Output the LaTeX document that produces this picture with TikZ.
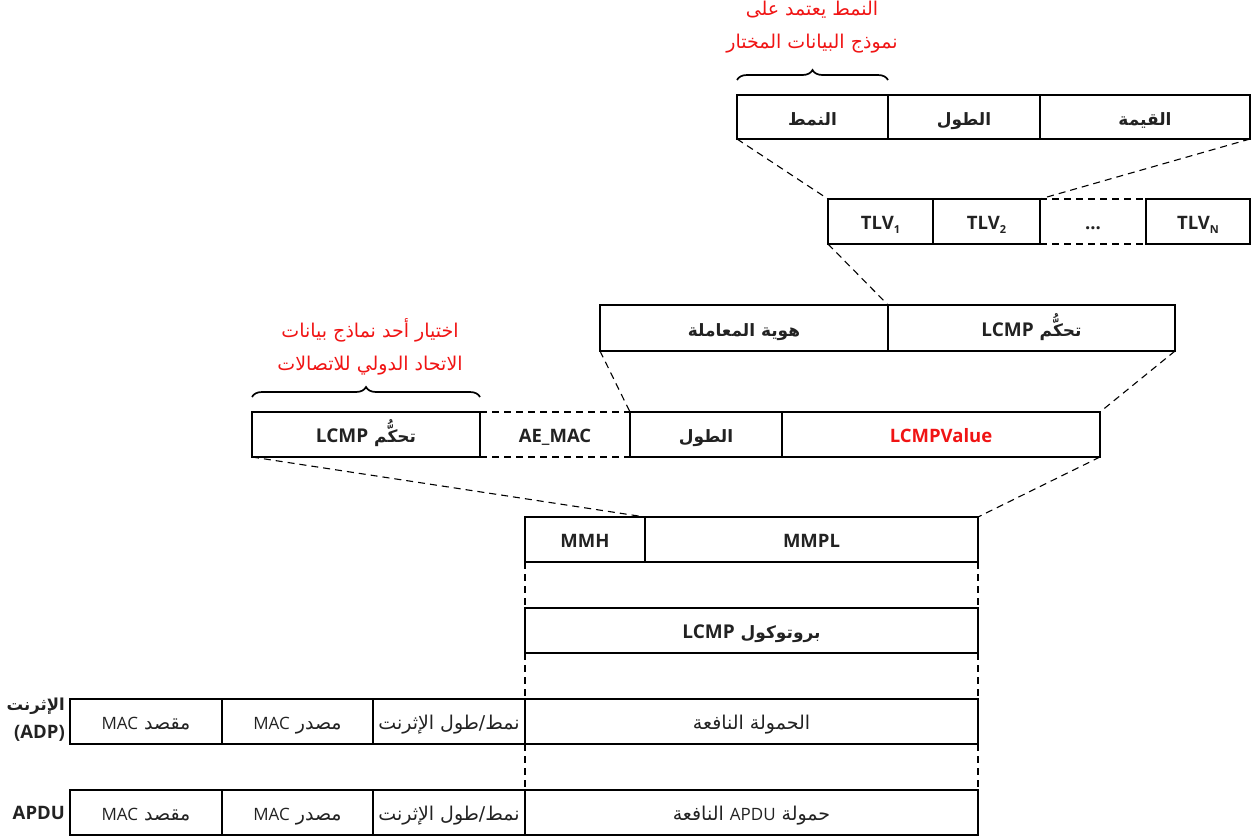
\documentclass[tikz,border=0pt]{standalone}
\usepackage{fontspec}
\setmainfont{Open Sans}
\newfontfamily\arfont[Script=Arabic]{DejaVu Sans}
\TeXXeTstate=1
\usetikzlibrary{decorations.pathreplacing}
% Arabic run (right to left) and Latin runs inside it
\newcommand\AR[1]{{\arfont\beginR #1\endR}}
\newcommand\LT[1]{{\rmfamily\fontsize{19}{22}\selectfont #1}}
\newcommand\LTs[1]{{\rmfamily\fontsize{17}{20}\selectfont #1}}
\newcommand\sub[1]{\raisebox{-4pt}{\fontsize{11}{11}\selectfont #1}}
\definecolor{notered}{RGB}{240,20,20}
\definecolor{ink}{RGB}{34,34,34}

\begin{document}
\begin{tikzpicture}[x=1pt,y=-1pt,
  cell/.style={draw, line width=1.2pt, anchor=north west, minimum height=45pt,
    inner sep=0pt, outer sep=0pt, text=ink},
  open/.style={cell, draw=none},
  hd/.style={font=\fontsize{18.5}{22}\selectfont\bfseries, text height=20pt, text depth=4pt},
  hdar/.style={font=\fontsize{17}{20}\selectfont\bfseries, text height=20pt, text depth=4pt},
  rg/.style={font=\fontsize{19}{22}\selectfont, text height=19pt, text depth=4pt},
  link/.style={dash pattern=on 7pt off 5pt, line width=1.1pt},
  note/.style={text=notered, font=\fontsize{19}{33}\selectfont, align=center},
  curly/.style={decorate, decoration={brace, amplitude=10pt}, line width=1.7pt},
  side/.style={font=\fontsize{18.5}{28}\selectfont\bfseries, align=right, anchor=east, inner sep=0pt, text=ink}
]
\useasboundingbox (0,0) rectangle (1253,838);

% Type / Length / Value
\node[cell, hdar, minimum width=151pt, minimum height=44pt] (tT) at (737,95) {\AR{النمط}};
\node[cell, hdar, minimum width=152pt, minimum height=44pt] (tL) at (888,95) {\AR{الطول}};
\node[cell, hdar, minimum width=210pt, minimum height=44pt] (tV) at (1040,95) {\AR{القيمة}};

% TLV list
\node[cell, hd, minimum width=105pt] (v1) at (828,199) {TLV\sub{1}};
\node[cell, hd, minimum width=107pt] (v2) at (933,199) {TLV\sub{2}};
\node[open, hd, minimum width=106pt] (vd) at (1040,199) {...};
\node[cell, hd, minimum width=104pt] (vN) at (1146,199) {TLV\sub{N}};
\draw[link] (vd.north west) -- (vd.north east);
\draw[link] (vd.south west) -- (vd.south east);

% LCMP control / transaction id
\node[cell, hdar, minimum width=288pt, minimum height=46pt] (cId) at (600,305) {\AR{هوية المعاملة}};
\node[cell, hdar, minimum width=287pt, minimum height=46pt] (cCtl) at (888,305) {\AR{تحكُّم \LT{LCMP}}};

% LCMP frame
\node[cell, hdar, minimum width=228pt] (lCtl) at (252,412) {\AR{تحكُّم \LT{LCMP}}};
\node[open, hd, minimum width=150pt] (lAE) at (480,412) {AE\_MAC};
\node[cell, hdar, minimum width=152pt] (lLen) at (630,412) {\AR{الطول}};
\node[cell, hd, minimum width=318pt, text=notered] (lVal) at (782,412) {LCMPValue};
\draw[link] (lAE.north west) -- (lAE.north east);
\draw[link] (lAE.south west) -- (lAE.south east);

% MMH / MMPL
\node[cell, hd, minimum width=120pt] (mH) at (525,517) {MMH};
\node[cell, hd, minimum width=333pt] (mPL) at (645,517) {MMPL};

% LCMP protocol
\node[cell, hdar, minimum width=453pt] (pr) at (525,608) {\AR{بروتوكول \LT{LCMP}}};

% Ethernet (ADP) frame
\node[cell, rg, minimum width=152pt] (eDst) at (70,699) {\AR{مقصد \LTs{MAC}}};
\node[cell, rg, minimum width=151pt] (eSrc) at (222,699) {\AR{مصدر \LTs{MAC}}};
\node[cell, rg, minimum width=152pt] (eTyp) at (373,699) {\AR{نمط/طول الإثرنت}};
\node[cell, rg, minimum width=453pt] (ePay) at (525,699) {\AR{الحمولة النافعة}};

% APDU frame
\node[cell, rg, minimum width=152pt] (aDst) at (70,790) {\AR{مقصد \LTs{MAC}}};
\node[cell, rg, minimum width=151pt] (aSrc) at (222,790) {\AR{مصدر \LTs{MAC}}};
\node[cell, rg, minimum width=152pt] (aTyp) at (373,790) {\AR{نمط/طول الإثرنت}};
\node[cell, rg, minimum width=453pt] (aPay) at (525,790) {\AR{حمولة \LTs{APDU} النافعة}};

% row labels
\node[side] (lblE) at (65,720) {{\fontsize{16.5}{28}\selectfont\AR{الإثرنت}}\\(ADP)};
\node[side] (lblA) at (65,813) {APDU};

% expansion guides
\draw[link] (tT.south west) -- (v1.north west);
\draw[link] (tV.south east) -- (v2.north east);
\draw[link] (v1.south west) -- (cId.north east);
\draw[link] (cId.south west) -- (lLen.north west);
\draw[link] (cCtl.south east) -- (lVal.north east);
\draw[link] (lCtl.south west) -- (mPL.north west);
\draw[link] (lVal.south east) -- (mPL.north east);
\draw[link] (mH.south west) -- (pr.north west);
\draw[link] (mPL.south east) -- (pr.north east);
\draw[link] (pr.south west) -- (ePay.north west);
\draw[link] (pr.south east) -- (ePay.north east);
\draw[link] (ePay.south west) -- (aPay.north west);
\draw[link] (ePay.south east) -- (aPay.north east);

% braces with notes
\draw[curly] ([yshift=15pt]tT.north west) -- ([yshift=15pt]tT.north east);
\node[note] (n1) at (812,27) {\AR{النمط يعتمد على}\\\AR{نموذج البيانات المختار}};
\draw[curly] ([yshift=15pt]lCtl.north west) -- ([yshift=15pt]lCtl.north east);
\node[note] (n2) at (370,347) {\AR{اختيار أحد نماذج بيانات}\\\AR{الاتحاد الدولي للاتصالات}};
\end{tikzpicture}
\end{document}
